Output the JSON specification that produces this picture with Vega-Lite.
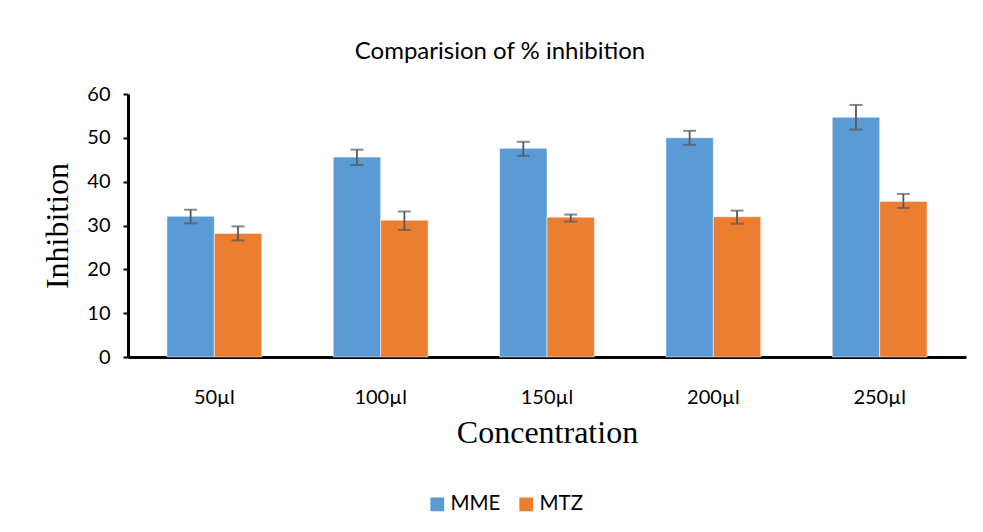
{
  "$schema": "https://vega.github.io/schema/vega-lite/v6.json",
  "width": 838,
  "height": 263,
  "autosize": "none",
  "padding": {"left": 128, "top": 94, "right": 17, "bottom": 175},
  "background": "white",
  "config": {
    "view": {"stroke": null},
    "font": "Lato",
    "axis": {"grid": false}
  },
  "title": {
    "text": "Comparision of % inhibition",
    "font": "Lato",
    "fontSize": 24,
    "fontWeight": "normal",
    "color": "#000000",
    "anchor": "middle",
    "frame": "group",
    "dx": -47,
    "offset": 20
  },
  "data": {
    "values": [
      {"conc": "50µl", "series": "MME", "value": 32.1, "lo": 30.5, "hi": 33.6},
      {"conc": "50µl", "series": "MTZ", "value": 28.2, "lo": 26.6, "hi": 29.8},
      {"conc": "100µl", "series": "MME", "value": 45.6, "lo": 43.8, "hi": 47.3},
      {"conc": "100µl", "series": "MTZ", "value": 31.2, "lo": 29.0, "hi": 33.2},
      {"conc": "150µl", "series": "MME", "value": 47.6, "lo": 45.9, "hi": 49.1},
      {"conc": "150µl", "series": "MTZ", "value": 31.9, "lo": 30.9, "hi": 32.5},
      {"conc": "200µl", "series": "MME", "value": 50.0, "lo": 48.4, "hi": 51.6},
      {"conc": "200µl", "series": "MTZ", "value": 32.0, "lo": 30.4, "hi": 33.4},
      {"conc": "250µl", "series": "MME", "value": 54.7, "lo": 51.9, "hi": 57.5},
      {"conc": "250µl", "series": "MTZ", "value": 35.5, "lo": 34.0, "hi": 37.2}
    ]
  },
  "encoding": {
    "x": {
      "field": "conc",
      "type": "nominal",
      "sort": ["50µl", "100µl", "150µl", "200µl", "250µl"],
      "scale": {"paddingInner": 0.43, "paddingOuter": 0.234},
      "axis": {
        "title": "Concentration",
        "titleFont": "Liberation Serif",
        "titleFontSize": 32,
        "titleFontWeight": "normal",
        "titleColor": "#000000",
        "titlePadding": 10,
        "labelAngle": 0,
        "labelFont": "Lato",
        "labelFontSize": 20,
        "labelColor": "#000000",
        "labelPadding": 30,
        "ticks": false,
        "domainColor": "#000000",
        "domainWidth": 3
      }
    },
    "xOffset": {
      "field": "series",
      "type": "nominal",
      "sort": ["MME", "MTZ"],
      "scale": {"paddingInner": 0, "paddingOuter": 0}
    }
  },
  "layer": [
    {
      "mark": {"type": "bar", "stroke": "#ffffff", "strokeOpacity": 0.5, "strokeWidth": 1},
      "encoding": {
        "y": {
          "field": "value",
          "type": "quantitative",
          "scale": {"domain": [0, 60]},
          "axis": {
            "title": "Inhibition",
            "titleFont": "Liberation Serif",
            "titleFontSize": 32,
            "titleFontWeight": "normal",
            "titleColor": "#000000",
            "titlePadding": 12,
            "values": [0, 10, 20, 30, 40, 50, 60],
            "labelFont": "Lato",
            "labelFontSize": 20,
            "labelColor": "#000000",
            "labelPadding": 13,
            "tickSize": 5,
            "tickWidth": 2,
            "tickColor": "#000000",
            "domainColor": "#000000",
            "domainWidth": 3
          }
        },
        "color": {
          "field": "series",
          "type": "nominal",
          "sort": ["MME", "MTZ"],
          "scale": {"domain": ["MME", "MTZ"], "range": ["#5B9BD5", "#ED7D31"]},
          "legend": {
            "title": null,
            "orient": "none",
            "legendX": 299,
            "legendY": 400,
            "direction": "horizontal",
            "symbolType": "square",
            "symbolSize": 190,
            "symbolStrokeWidth": 0,
            "labelFont": "Lato",
            "labelFontSize": 20.5,
            "labelColor": "#000000",
            "columnPadding": 15,
            "labelOffset": 3
          }
        }
      }
    },
    {
      "mark": {"type": "rule", "color": "#595959", "strokeWidth": 1.8},
      "encoding": {
        "y": {"field": "lo", "type": "quantitative"},
        "y2": {"field": "hi"}
      }
    },
    {
      "mark": {"type": "tick", "color": "#595959", "thickness": 2, "size": 13},
      "encoding": {
        "y": {"field": "lo", "type": "quantitative"}
      }
    },
    {
      "mark": {"type": "tick", "color": "#595959", "thickness": 2, "size": 13},
      "encoding": {
        "y": {"field": "hi", "type": "quantitative"}
      }
    }
  ]
}
